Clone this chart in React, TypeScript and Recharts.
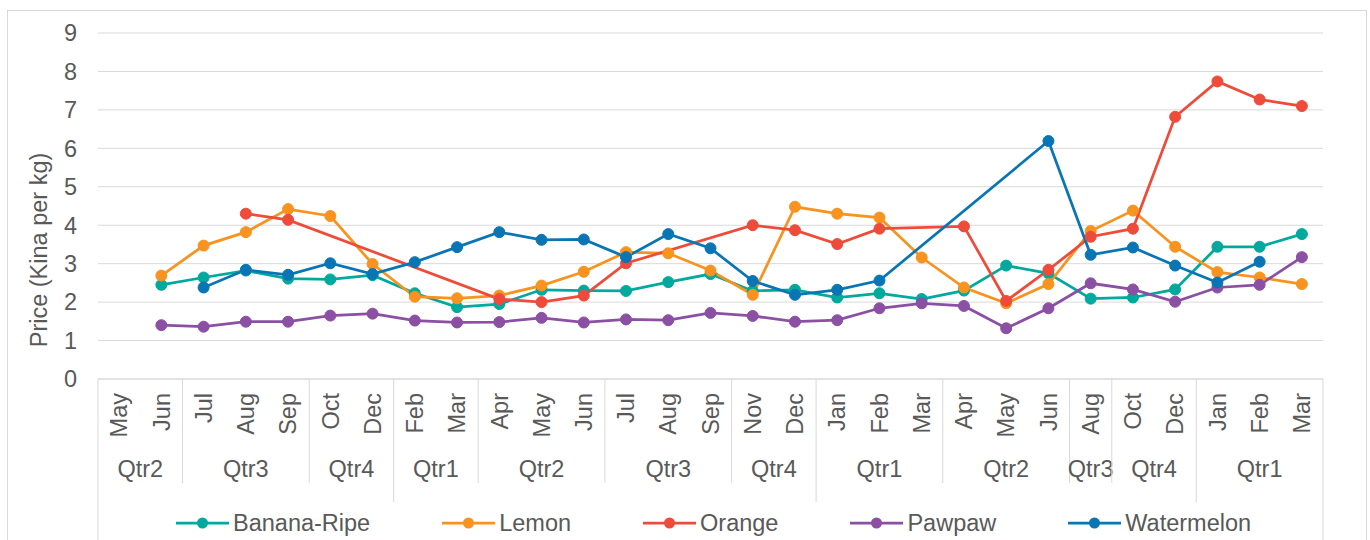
import { LineChart, Line, XAxis, YAxis, CartesianGrid, Legend, Label } from 'recharts'

const months = [
  'May', 'Jun', 'Jul', 'Aug', 'Sep', 'Oct', 'Dec',
  'Feb', 'Mar', 'Apr', 'May', 'Jun', 'Jul', 'Aug', 'Sep', 'Nov', 'Dec',
  'Jan', 'Feb', 'Mar', 'Apr', 'May', 'Jun', 'Aug', 'Oct', 'Dec',
  'Jan', 'Feb', 'Mar',
]
const quarterLabels = ['Qtr2', 'Qtr3', 'Qtr4', 'Qtr1', 'Qtr2', 'Qtr3', 'Qtr4', 'Qtr1', 'Qtr2', 'Qtr3', 'Qtr4', 'Qtr1']
const quarterSizes = [2, 3, 2, 2, 3, 3, 2, 3, 3, 1, 2, 3]
const yearSizes = [7, 10, 9, 3]
const yTicks = [0, 1, 2, 3, 4, 5, 6, 7, 8, 9]

const banana = [null, 2.45, 2.64, 2.82, 2.61, 2.59, 2.70, 2.23, 1.87, 1.95, 2.32, 2.30, 2.29, 2.52, 2.73, 2.29, 2.32, 2.12, 2.23, 2.08, 2.30, 2.95, 2.75, 2.09, 2.12, 2.33, 3.44, 3.44, 3.77]
const lemon = [null, 2.69, 3.47, 3.82, 4.42, 4.24, 2.99, 2.14, 2.10, 2.17, 2.43, 2.79, 3.30, 3.27, 2.82, 2.19, 4.48, 4.30, 4.20, 3.16, 2.38, 1.97, 2.47, 3.85, 4.38, 3.44, 2.78, 2.64, 2.47]
const orange = [null, null, null, 4.30, 4.14, null, null, null, null, 2.08, 2.00, 2.17, 3.01, null, null, 4.00, 3.87, 3.51, 3.91, null, 3.97, 2.03, 2.84, 3.70, 3.91, 6.82, 7.74, 7.27, 7.10]
const pawpaw = [null, 1.40, 1.36, 1.49, 1.49, 1.65, 1.70, 1.52, 1.47, 1.48, 1.59, 1.47, 1.55, 1.53, 1.72, 1.64, 1.49, 1.53, 1.84, 1.97, 1.90, 1.32, 1.84, 2.49, 2.33, 2.01, 2.38, 2.45, 3.17]
const watermelon = [null, null, 2.38, 2.84, 2.71, 3.01, 2.73, 3.04, 3.43, 3.82, 3.62, 3.63, 3.17, 3.77, 3.40, 2.55, 2.19, 2.32, 2.56, null, null, null, 6.19, 3.23, 3.42, 2.95, 2.51, 3.05, null]

const SERIES = [
  { name: 'Banana-Ripe', values: banana, color: '#00A99D' },
  { name: 'Lemon', values: lemon, color: '#F7931E' },
  { name: 'Orange', values: orange, color: '#EE4B3A' },
  { name: 'Pawpaw', values: pawpaw, color: '#8B4FA3' },
  { name: 'Watermelon', values: watermelon, color: '#0A75B5' },
]

const TEXT = '#595959'
const LINE = '#d9d9d9'
const FONT = 23.5

const data = months.map((m, i) => {
  const row: Record<string, string | number | null> = { idx: i, month: m }
  for (const s of SERIES) row[s.name] = s.values[i]
  return row
})

// group positions on the index scale (months sit on integers)
const sum = (arr: number[]) => arr.reduce((a, b) => a + b, 0)
const quarterStarts = quarterSizes.map((_, i) => sum(quarterSizes.slice(0, i)))
const quarterCentres = quarterStarts.map((s, i) => s + (quarterSizes[i] - 1) / 2)
const quarterEdges = [...quarterStarts.map((s) => s - 0.5), months.length - 0.5]
const yearEdges = yearSizes.map((_, i) => sum(yearSizes.slice(0, i + 1)) - 0.5)
const outerEdges = [-0.5, months.length - 0.5]

const axisTicks = Array.from(new Set([...months.map((_, i) => i), ...quarterEdges, ...quarterCentres])).sort((a, b) => a - b)

function AxisTick({ x, y, payload }: any) {
  const v = payload.value as number
  const parts: any[] = []
  if (Number.isInteger(v)) {
    parts.push(
      <text key="m" x={x} y={y + 14} dy="0.35em" textAnchor="end" fill={TEXT} fontSize={FONT}
        transform={`rotate(-90, ${x}, ${y + 14})`}>
        {months[v]}
      </text>
    )
  }
  const q = quarterCentres.indexOf(v)
  if (q >= 0) {
    parts.push(
      <text key="q" x={x} y={y + 98} textAnchor="middle" fill={TEXT} fontSize={FONT}>{quarterLabels[q]}</text>
    )
  }
  if (quarterEdges.includes(v)) {
    const len = outerEdges.includes(v) ? 161 : yearEdges.includes(v) ? 123 : 104
    parts.push(<line key="e" x1={x} x2={x} y1={y} y2={y + len} stroke={LINE} strokeWidth={1} />)
  }
  return <g>{parts}</g>
}

function LegendContent({ payload }: any) {
  return (
    <div style={{ display: 'flex', alignItems: 'center', height: 30, paddingLeft: 176, gap: 72, color: TEXT, fontSize: FONT }}>
      {(payload || []).map((p: any) => (
        <div key={p.value} style={{ display: 'flex', alignItems: 'center' }}>
          <svg width={53} height={14}>
            <line x1={0} x2={53} y1={7} y2={7} stroke={p.color} strokeWidth={2.75} />
            <circle cx={26.5} cy={7} r={5.5} fill={p.color} />
          </svg>
          <span style={{ marginLeft: 4, lineHeight: '30px' }}>{p.value}</span>
        </div>
      ))}
    </div>
  )
}

export default function App() {
  return (
    <div style={{ position: 'relative', width: 1370, height: 540, fontFamily: '"Liberation Sans", Arial, sans-serif' }}>
      <style>{'body{margin:0;overflow:hidden;background:#fff}'}</style>
      <div style={{ position: 'absolute', left: 7, top: 10, width: 1360, height: 540, border: `1px solid ${LINE}`, boxSizing: 'border-box', pointerEvents: 'none' }} />
      <LineChart width={1370} height={540} data={data} margin={{ top: 33, right: 47, left: 38, bottom: 2 }}>
        <CartesianGrid vertical={false} stroke={LINE} strokeWidth={1} />
        <XAxis
          dataKey="idx"
          type="number"
          domain={[-0.5, months.length - 0.5]}
          ticks={axisTicks}
          interval={0}
          height={129}
          axisLine={{ stroke: LINE }}
          tickLine={false}
          tickSize={0}
          tickMargin={0}
          tick={<AxisTick />}
        />
        <YAxis
          domain={[0, 9]}
          ticks={yTicks}
          interval={0}
          width={60}
          axisLine={false}
          tickLine={false}
          tickSize={0}
          tickMargin={21}
          tick={{ fill: TEXT, fontSize: FONT }}
        >
          <Label
            content={({ viewBox }: any) => {
              const cx = viewBox.x + 1
              const cy = viewBox.y + viewBox.height / 2 + 44
              return (
                <text x={cx} y={cy} textAnchor="middle" dominantBaseline="central" fill={TEXT} fontSize={FONT}
                  transform={`rotate(-90, ${cx}, ${cy})`}>
                  Price (Kina per kg)
                </text>
              )
            }}
          />
        </YAxis>
        <Legend verticalAlign="bottom" wrapperStyle={{ left: 0, width: 1370, bottom: 2 }} content={<LegendContent />} />
        {SERIES.map((s) => (
          <Line
            key={s.name}
            type="linear"
            dataKey={s.name}
            name={s.name}
            stroke={s.color}
            strokeWidth={2.75}
            dot={{ r: 5.5, fill: s.color, stroke: s.color, strokeWidth: 1 }}
            activeDot={false}
            connectNulls
            isAnimationActive={false}
          />
        ))}
      </LineChart>
    </div>
  )
}
